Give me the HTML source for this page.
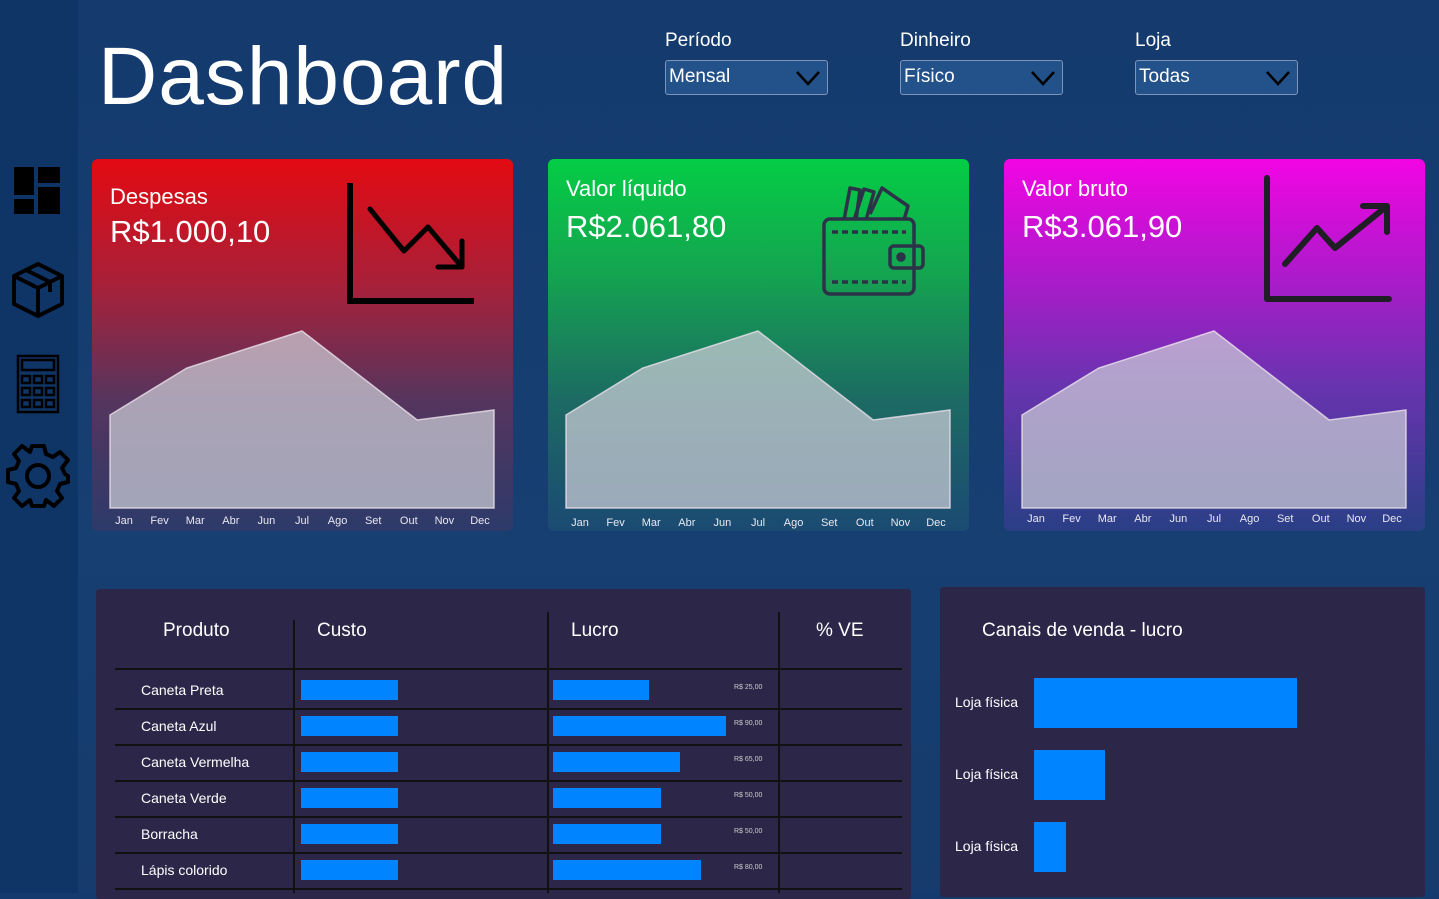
<!DOCTYPE html>
<html><head><meta charset="utf-8">
<style>
*{margin:0;padding:0;box-sizing:border-box}
body{width:1439px;height:893px;overflow:hidden;background:linear-gradient(180deg,#143a6e,#173f72 60%,#163b6c);font-family:"Liberation Sans",sans-serif;color:#fff;position:relative}
.abs{position:absolute}
#sidebar{left:0;top:0;width:78px;height:893px;background:#0f3566}
h1{position:absolute;left:98px;top:30px;font-size:82px;font-weight:400;letter-spacing:1px}
.flab{font-size:19px}
.sel{width:163px;height:35px;background:#23518a;border:1px solid #7f95b8;border-radius:3px;font-size:19px;padding:5px 3px}
.sel svg{position:absolute;right:6px;top:8px}
.card{border-radius:6px;overflow:hidden}
.card .t{position:absolute;left:18px;font-size:22px}
.card .v{position:absolute;left:18px;font-size:31px}
.panel{background:#2c2749;border-radius:3px}
.th{font-size:19px}
.pn{font-size:14px}
.hl{background:#111;height:2px}
.vl{background:#111;width:2px}
.bar{background:#0084ff}
.small{font-size:7px;color:#ccc}
</style></head><body>
<div id="sidebar" class="abs"></div>
<svg class="abs" style="left:12px;top:165px" width="52" height="52"><rect x="2" y="2" width="20" height="28" fill="#000"/><rect x="26" y="2" width="22" height="16" fill="#000"/><rect x="2" y="34" width="20" height="15" fill="#000"/><rect x="26" y="22" width="22" height="27" fill="#000"/></svg>
<svg class="abs" style="left:10px;top:260px" width="58" height="62" fill="none" stroke="#000" stroke-width="4" stroke-linejoin="round"><path d="M4 16 L28 4 L52 16 L52 44 L28 56 L4 44 Z M4 16 L28 28 L52 16 M28 28 L28 56 M16 10 L40 22 L40 32"/></svg>
<svg class="abs" style="left:16px;top:354px" width="46" height="60" fill="none" stroke="#000" stroke-width="2.5"><rect x="2" y="2" width="40" height="56"/><rect x="6" y="6" width="32" height="10"/><g><rect x="6" y="22" width="8" height="7"/><rect x="18" y="22" width="8" height="7"/><rect x="30" y="22" width="8" height="7"/><rect x="6" y="34" width="8" height="7"/><rect x="18" y="34" width="8" height="7"/><rect x="30" y="34" width="8" height="7"/><rect x="6" y="46" width="8" height="7"/><rect x="18" y="46" width="8" height="7"/><rect x="30" y="46" width="8" height="7"/></g></svg>
<svg class="abs" style="left:5px;top:443px" width="66" height="66" viewBox="-33 -33 66 66" fill="none" stroke="#000" stroke-width="4" stroke-linejoin="round"><path d="M-6 -30 L6 -30 L8 -22 L15 -19 L22 -24 L30 -16 L24 -8 L27 -2 L30 0 L30 6 L22 8 L19 15 L24 22 L16 30 L8 24 L6 30 L-6 30 L-8 24 L-16 30 L-24 22 L-19 15 L-22 8 L-30 6 L-30 -6 L-22 -8 L-19 -15 L-24 -22 L-16 -30 L-8 -24 Z"/><circle r="11"/></svg>

<h1>Dashboard</h1>

<div class="abs flab" style="left:665px;top:30px">Período</div>
<div class="abs sel" style="left:665px;top:60px">Mensal<svg width="26" height="18"><path d="M2 3 L13 15 L24 3" stroke="#000" stroke-width="2.5" fill="none"/></svg></div>
<div class="abs flab" style="left:900px;top:30px">Dinheiro</div>
<div class="abs sel" style="left:900px;top:60px">Físico<svg width="26" height="18"><path d="M2 3 L13 15 L24 3" stroke="#000" stroke-width="2.5" fill="none"/></svg></div>
<div class="abs flab" style="left:1135px;top:30px">Loja</div>
<div class="abs sel" style="left:1135px;top:60px">Todas<svg width="26" height="18"><path d="M2 3 L13 15 L24 3" stroke="#000" stroke-width="2.5" fill="none"/></svg></div>

<div id="card1" class="abs card" style="left:92px;top:159px;width:421px;height:372px;background:linear-gradient(180deg,#e30a12 0%,#a5213a 35%,#55355e 65%,#2d3a6a 100%)">
 <div class="t" style="top:25px">Despesas</div>
 <div class="v" style="top:55px">R$1.000,10</div>
 <svg class="abs" style="left:250px;top:20px" width="140" height="130" fill="none" stroke="#000" stroke-width="5"><path d="M8 4 L8 122 L132 122" stroke-width="6"/><path d="M28 30 L62 72 L86 48 L120 88 M120 62 L120 88 L96 88" stroke-linecap="round" stroke-linejoin="round"/></svg>
</div>
<div id="card2" class="abs card" style="left:548px;top:159px;width:421px;height:372px;background:linear-gradient(180deg,#04cd45 0%,#14a550 30%,#1c6a63 65%,#1b4a73 100%)">
 <div class="t" style="top:17px">Valor líquido</div>
 <div class="v" style="top:50px">R$2.061,80</div>
 <svg class="abs" style="left:272px;top:25px" width="110" height="115" fill="none" stroke="#2c3248" stroke-width="3.5" stroke-linejoin="round"><path d="M24 36 L30 4 L40 6 L36 36 M34 36 L44 5 L54 8 L46 36 M50 30 L62 4 L88 22 L84 36"/><rect x="4" y="35" width="90" height="75" rx="6"/><path d="M12 48 L86 48 M12 98 L86 98" stroke-dasharray="6 4"/><rect x="70" y="62" width="33" height="22" rx="4"/><circle cx="81" cy="73" r="3" fill="#2c3248"/></svg>
</div>
<div id="card3" class="abs card" style="left:1004px;top:159px;width:421px;height:372px;background:linear-gradient(180deg,#f205e4 0%,#b019cc 30%,#6a33b0 60%,#2a3f86 100%)">
 <div class="t" style="top:17px">Valor bruto</div>
 <div class="v" style="top:50px">R$3.061,90</div>
 <svg class="abs" style="left:255px;top:15px" width="140" height="132" fill="none" stroke="#1e1e24" stroke-width="6" stroke-linecap="round" stroke-linejoin="round"><path d="M8 4 L8 125 L130 125"/><path d="M26 90 L58 54 L76 74 L128 32 M104 32 L128 32 L128 58"/></svg>
</div>

<div class="abs panel" style="left:96px;top:589px;width:815px;height:310px"></div>
<div class="abs th" style="left:163px;top:620px">Produto</div>
<div class="abs th" style="left:317px;top:620px">Custo</div>
<div class="abs th" style="left:571px;top:620px">Lucro</div>
<div class="abs th" style="left:816px;top:620px">% VE</div>
<div class="abs vl" style="left:293px;top:620px;height:273px"></div>
<div class="abs vl" style="left:547px;top:612px;height:281px"></div>
<div class="abs vl" style="left:778px;top:612px;height:281px"></div>
<div id="rows"></div>

<div class="abs panel" style="left:940px;top:587px;width:485px;height:310px"></div>
<div class="abs th" style="left:982px;top:620px">Canais de venda - lucro</div>
<div id="canais"></div>

<script>
// area chart data (same shape in all cards)
const months=['Jan','Fev','Mar','Abr','Jun','Jul','Ago','Set','Out','Nov','Dec'];
const pointIdx=[0,2.2,5.5,8.8,11];
const card1Vals=[93,140,177,88,98];
const card2Vals=[93,140,177,88,98];
const card3Vals=[93,140,177,88,98];
// table data
const products=['Caneta Preta','Caneta Azul','Caneta Vermelha','Caneta Verde','Borracha','Lápis colorido'];
const custoVals=[50,50,50,50,50,50];
const lucroVals=[50,90,66,56,56,77];
const lucroLabels=['R$ 25,00','R$ 90,00','R$ 65,00','R$ 50,00','R$ 50,00','R$ 80,00'];
// canais data
const canais=['Loja física','Loja física','Loja física'];
const canaisVals=[100,27,12];

function area(cardId,vals,baseY,labelY,namePrefix){
  const card=document.getElementById(cardId);
  const x0=18,x1=402;
  const xs=i=>x0+(x1-x0)*i/11;
  const ys=v=>baseY-v;
  const ns='http://www.w3.org/2000/svg';
  const svg=document.createElementNS(ns,'svg');
  svg.setAttribute('width','421');svg.setAttribute('height','372');
  svg.style.position='absolute';svg.style.left='0';svg.style.top='0';
  
  
  let d='M'+xs(0)+' '+baseY;
  vals.forEach((v,i)=>{d+=' L'+xs(pointIdx[i])+' '+ys(v);});
  d+=' L'+xs(11)+' '+baseY+' Z';
  const p=document.createElementNS(ns,'path');
  p.setAttribute('d',d);p.setAttribute('fill','rgba(205,205,215,0.72)');
  p.setAttribute('stroke','rgba(235,225,235,0.8)');p.setAttribute('stroke-width','1.5');
  
  
  svg.appendChild(p);
  months.forEach((m,i)=>{
    const t=document.createElementNS(ns,'text');
    t.setAttribute('x',32+i*35.6);t.setAttribute('y',labelY);
    t.setAttribute('font-size','11');t.setAttribute('fill','#e8e8f0');
    t.setAttribute('text-anchor','middle');t.setAttribute('font-family','Liberation Sans, sans-serif');
    
    
    t.textContent=m;svg.appendChild(t);
  });
  card.appendChild(svg);
}
area('card1',card1Vals,349,365,'despesas');
area('card2',card2Vals,349,367,'liquido');
area('card3',card3Vals,349,363,'bruto');

const rows=document.getElementById('rows');
const rowTops=[672,708,744,780,816,852];
const cScale=97/50, lScale=173/90;
function mk(cls,style,name,text){
  const e=document.createElement('div');e.className='abs '+cls;e.setAttribute('style',style);
  
  
  if(text)e.textContent=text;rows.appendChild(e);return e;
}
mk('hl','left:115px;top:668px;width:787px','row-divider');
products.forEach((p,i)=>{
  const t=rowTops[i];
  mk('pn','left:141px;top:'+(t+10)+'px',  'product-name',p);
  mk('bar','left:301px;top:'+(t+8)+'px;width:'+(custoVals[i]*cScale)+'px;height:20px','custo-bar');
  mk('bar','left:553px;top:'+(t+8)+'px;width:'+(lucroVals[i]*lScale)+'px;height:20px','lucro-bar');
  mk('small','left:734px;top:'+(t+12)+'px','lucro-value',lucroLabels[i]);
  mk('hl','left:115px;top:'+(t+36)+'px;width:787px','row-divider');
});
const can=document.getElementById('canais');
canais.forEach((c,i)=>{
  const t=678+i*72;
  const l=document.createElement('div');l.className='abs pn';l.style.left='955px';l.style.top=(t+16)+'px';
  
  
  l.textContent=c;can.appendChild(l);
  const b=document.createElement('div');b.className='abs bar';b.style.left='1034px';b.style.top=t+'px';
  b.style.height='50px';b.style.width=(canaisVals[i]*2.63)+'px';
  
  
  can.appendChild(b);
});
</script>
</body></html>
